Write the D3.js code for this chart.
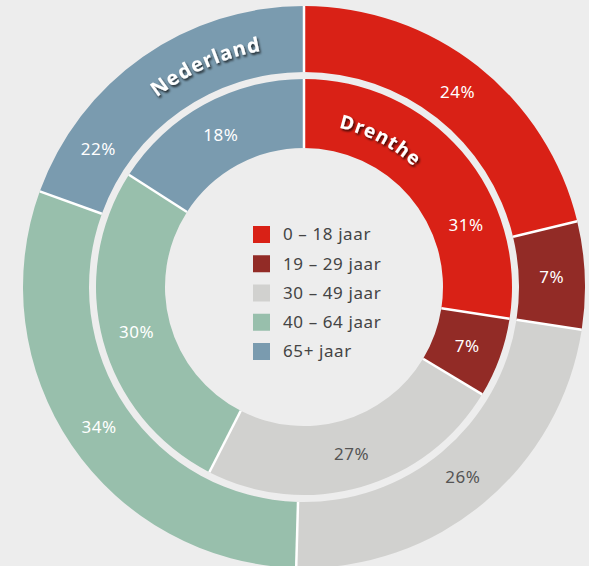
<!DOCTYPE html>
<html>
<head>
<meta charset="utf-8">
<script src="https://cdn.jsdelivr.net/npm/d3@7"></script>
<style>
  html, body { margin: 0; padding: 0; background: #ededed; }
  svg { display: block; font-family: "Noto Sans", "Open Sans", sans-serif; }
</style>
</head>
<body>
<div id="chart-area"></div>
<script>
// age groups and the two rings (outer = Nederland, inner = Drenthe)
const categories = ["0 – 18 jaar", "19 – 29 jaar", "30 – 49 jaar", "40 – 64 jaar", "65+ jaar"];
const nederland = [24, 7, 26, 34, 22];
const drenthe = [31, 7, 27, 30, 18];
const colors = ["#d92116", "#922b26", "#d1d1cf", "#98bfac", "#7a9baf"];

const config = {
    width: 589,
    height: 566,
    cx: 304,
    cy: 287
};

const svg = d3.select('#chart-area')
    .append('svg')
    .attr('width', config.width)
    .attr('height', config.height)
    .style('background', '#ededed');

const defs = svg.append('defs');
const shadow = defs.append('filter')
    .attr('id', 'shadow')
    .attr('x', '-20%').attr('y', '-40%')
    .attr('width', '140%').attr('height', '180%');
shadow.append('feDropShadow')
    .attr('dx', 1.5).attr('dy', 2)
    .attr('stdDeviation', 1)
    .attr('flood-color', '#000')
    .attr('flood-opacity', 0.75);

const g = svg.append('g')
    .attr('transform', `translate(${config.cx}, ${config.cy})`);

const pie = d3.pie().sort(null).value(d => d);

const rings = [
    { name: "Nederland", values: nederland, inner: 215, outer: 281,
      nameR: 240, nameAngle: -24, nameSize: 20, shiftIndex: 4, shiftFrac: 0.2 },
    { name: "Drenthe", values: drenthe, inner: 139, outer: 208,
      nameR: 163, nameAngle: 27.5, nameSize: 19, shiftIndex: 0, shiftFrac: 0.7 }
];

const rad = a => a * Math.PI / 180;

rings.forEach((ring, ri) => {
    const arcs = pie(ring.values);
    const arc = d3.arc().innerRadius(ring.inner).outerRadius(ring.outer);

    const rg = g.append('g');
    rg.selectAll('path.slice')
        .data(arcs)
        .enter().append('path')
        .attr('class', 'slice')
        .attr('d', arc)
        .attr('fill', (d, i) => colors[i]);

    // white separators between slices
    rg.selectAll('line.sep')
        .data(arcs)
        .enter().append('line')
        .attr('class', 'sep')
        .attr('x1', d => ring.inner * Math.sin(d.startAngle))
        .attr('y1', d => -ring.inner * Math.cos(d.startAngle))
        .attr('x2', d => ring.outer * Math.sin(d.startAngle))
        .attr('y2', d => -ring.outer * Math.cos(d.startAngle))
        .attr('stroke', '#fff')
        .attr('stroke-width', 2.5);

    const labelR = (ring.inner + ring.outer) / 2;
    rg.selectAll('text.pct')
        .data(arcs)
        .enter().append('text')
        .attr('class', 'pct')
        .attr('transform', (d, i) => {
            let a = (d.startAngle + d.endAngle) / 2;
            if (i === ring.shiftIndex) a = d.startAngle + (d.endAngle - d.startAngle) * ring.shiftFrac;
            return `translate(${labelR * Math.sin(a)}, ${-labelR * Math.cos(a)})`;
        })
        .attr('text-anchor', 'middle')
        .attr('dy', '0.35em')
        .attr('font-size', '17px')
        .attr('letter-spacing', '0.5px')
        .attr('fill', (d, i) => i === 2 ? '#555' : '#fff')
        .text(d => d.data + '%');

    // curved ring name
    const a0 = rad(ring.nameAngle - 60), a1 = rad(ring.nameAngle + 60);
    const r = ring.nameR;
    defs.append('path')
        .attr('id', 'namepath' + ri)
        .attr('d', `M${r * Math.sin(a0)},${-r * Math.cos(a0)} A${r},${r} 0 0 1 ${r * Math.sin(a1)},${-r * Math.cos(a1)}`);
    rg.append('text')
        .attr('font-size', ring.nameSize + 'px')
        .attr('font-weight', 'bold')
        .attr('letter-spacing', '1.2px')
        .attr('fill', '#fff')
        .attr('filter', 'url(#shadow)')
        .append('textPath')
        .attr('href', '#namepath' + ri)
        .attr('startOffset', '50%')
        .attr('text-anchor', 'middle')
        .text(ring.name);
});

// legend
const yLegend = d3.scalePoint()
    .domain(categories)
    .range([226, 343]);

const legend = svg.append('g').attr('class', 'legend');
const rows = legend.selectAll('g')
    .data(categories)
    .enter().append('g')
    .attr('transform', d => `translate(253, ${yLegend(d)})`);

rows.append('rect')
    .attr('width', 17)
    .attr('height', 17)
    .attr('fill', (d, i) => colors[i]);

rows.append('text')
    .attr('x', 30)
    .attr('y', 8.5)
    .attr('dy', '0.35em')
    .attr('font-size', '17px')
    .attr('letter-spacing', '0.6px')
    .attr('fill', '#444')
    .text(d => d);
</script>
</body>
</html>
